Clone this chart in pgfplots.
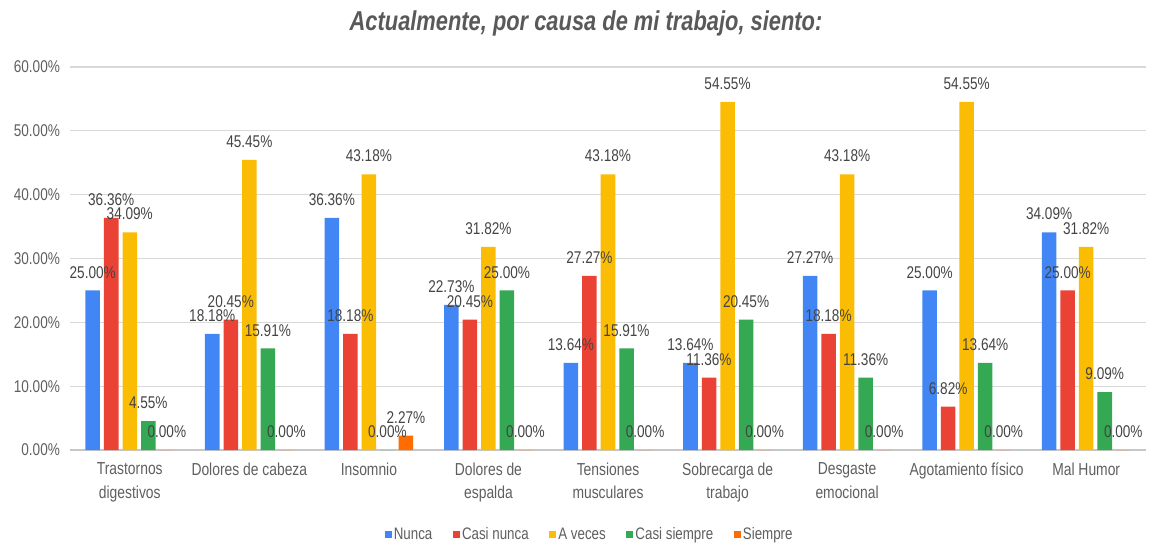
\documentclass[border=0pt]{standalone}
\usepackage{fontspec}
\setmainfont[FakeStretch=0.8]{Liberation Sans}
\usepackage{pgfplots}
\usepackage{pgfplotstable}
\pgfplotsset{compat=1.18}
\definecolor{cNunca}{HTML}{4285F4}
\definecolor{cCasiNunca}{HTML}{EA4335}
\definecolor{cAVeces}{HTML}{FBBC04}
\definecolor{cCasiSiempre}{HTML}{34A853}
\definecolor{cSiempre}{HTML}{FF6D01}
\definecolor{txtgray}{HTML}{5F5F5F}
\definecolor{lblgray}{HTML}{444444}
\definecolor{titlegray}{HTML}{595959}
\pgfplotstableread{
x nunca casinunca aveces casisiempre siempre
0 25.00 36.36 34.09 4.55 0.00
1 18.18 20.45 45.45 15.91 0.00
2 36.36 18.18 43.18 0.00 2.27
3 22.73 20.45 31.82 25.00 0.00
4 13.64 27.27 43.18 15.91 0.00
5 13.64 11.36 54.55 20.45 0.00
6 27.27 18.18 43.18 11.36 0.00
7 25.00 6.82 54.55 13.64 0.00
8 34.09 25.00 31.82 9.09 0.00
}\datatable
\pgfplotsset{myleg/.style={legend image code/.code={\fill[##1,draw=none] (0pt,-2.6pt) rectangle (5.25pt,2.6pt);}}}
\begin{document}
\begin{tikzpicture}
\path[use as bounding box] (-52.5pt,-69pt) rectangle (811.5pt,337.55pt);
\begin{axis}[
  scale only axis,
  width=807pt, height=287.3pt,
  ybar=3pt, bar width=10.9pt,
  xmin=-0.5, xmax=8.5, ymin=0, ymax=60,
  ytick={0,10,...,60},
  xtick={0,...,8},
  xticklabels={{Trastornos\\digestivos},{Dolores de cabeza},{Insomnio},{Dolores de\\espalda},{Tensiones\\musculares},{Sobrecarga de\\trabajo},{Desgaste\\emocional},{Agotamiento físico},{Mal Humor}},
  xticklabel style={align=center, font=\fontsize{13}{17.5}\selectfont, text=txtgray, yshift=-6pt},
  yticklabel={\pgfmathprintnumber[fixed,fixed zerofill,precision=2]{\tick}\%},
  yticklabel style={font=\fontsize{12.75}{15}\selectfont, text=txtgray, xshift=-4pt},
  /pgf/number format/assume math mode=true,
  major tick length=0pt,
  axis x line*=bottom, axis y line*=left,
  x axis line style={-, draw=black!22, line width=0.9pt},
  y axis line style={draw=none},
  ymajorgrids, grid style={draw=black!15, line width=0.8pt},
  nodes near coords={\pgfmathprintnumber[fixed,fixed zerofill,precision=2]{\pgfplotspointmeta}\%},
  every node near coord/.append style={font=\fontsize{12.75}{15}\selectfont, text=lblgray, inner sep=1.5pt, yshift=7.5pt},
  legend style={at={(0.483,-0.22)}, anchor=center, legend columns=-1, draw=none,
    font=\fontsize{12.5}{15}\selectfont, text=txtgray,
    /tikz/every even column/.append style={column sep=14pt},
    nodes={inner xsep=1.5pt}},
]
\addplot[fill=cNunca, draw=none, myleg] table[x=x,y=nunca]{\datatable};
\addplot[fill=cCasiNunca, draw=none, myleg] table[x=x,y=casinunca]{\datatable};
\addplot[fill=cAVeces, draw=none, myleg] table[x=x,y=aveces]{\datatable};
\addplot[fill=cCasiSiempre, draw=none, myleg] table[x=x,y=casisiempre]{\datatable};
\addplot[fill=cSiempre, draw=none, myleg] table[x=x,y=siempre]{\datatable};
\legend{Nunca,Casi nunca,A veces,Casi siempre,Siempre}
\end{axis}
\node[font=\fontsize{20.5}{24}\bfseries\itshape\selectfont, text=titlegray] at (387pt,320pt) {Actualmente, por causa de mi trabajo, siento:};
\end{tikzpicture}
\end{document}
